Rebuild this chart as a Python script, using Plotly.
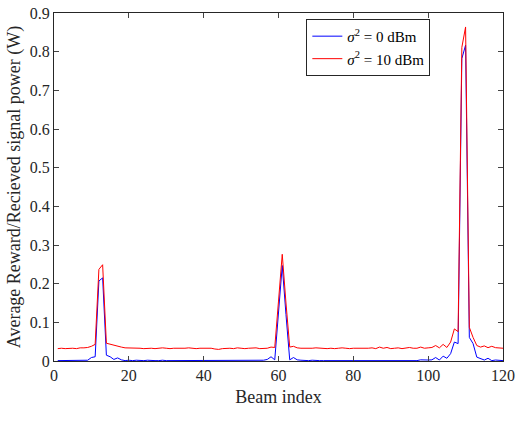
import plotly.graph_objects as go

# beam indices 1..120
beam_idx = list(range(1, 121))

# average reward / received power, sigma^2 = 0 dBm
power_0dbm = [
    0.001, 0.001, 0.001, 0.001, 0.001, 0.001, 0.001, 0.002, 0.002, 0.009,
    0.011, 0.207, 0.215, 0.015, 0.011, 0.004, 0.008, 0.003, 0.001, 0.002,
    0.001, 0.002, 0.001, 0.001, 0.002, 0.001, 0.001, 0.001, 0.002, 0.001,
    0.001, 0.001, 0.002, 0.001, 0.001, 0.001, 0.001, 0.002, 0.001, 0.001,
    0.001, 0.001, 0.001, 0.002, 0.001, 0.001, 0.001, 0.001, 0.001, 0.002,
    0.001, 0.001, 0.001, 0.002, 0.001, 0.002, 0.004, 0.011, 0.003, 0.125,
    0.247, 0.120, 0.003, 0.009, 0.003, 0.002, 0.001, 0.001, 0.002, 0.001,
    0.001, 0.001, 0.001, 0.002, 0.001, 0.001, 0.001, 0.001, 0.002, 0.001,
    0.001, 0.001, 0.001, 0.002, 0.001, 0.001, 0.002, 0.001, 0.001, 0.001,
    0.002, 0.001, 0.001, 0.002, 0.001, 0.002, 0.001, 0.003, 0.002, 0.0025,
    0.003, 0.009, 0.0025, 0.0126, 0.007, 0.019, 0.049, 0.045, 0.782, 0.817,
    0.061, 0.045, 0.010, 0.007, 0.0025, 0.007, 0.001, 0.0025, 0.001, 0.001,
]

# sigma^2 = 10 dBm
power_10dbm = [
    0.032, 0.033, 0.032, 0.033, 0.033, 0.032, 0.034, 0.034, 0.035, 0.038,
    0.043, 0.237, 0.249, 0.046, 0.043, 0.040, 0.038, 0.036, 0.034, 0.034,
    0.033, 0.034, 0.033, 0.032, 0.033, 0.033, 0.032, 0.033, 0.034, 0.033,
    0.032, 0.033, 0.033, 0.032, 0.033, 0.034, 0.033, 0.032, 0.033, 0.033,
    0.032, 0.033, 0.031, 0.030, 0.032, 0.033, 0.033, 0.032, 0.034, 0.033,
    0.032, 0.033, 0.033, 0.034, 0.032, 0.033, 0.033, 0.036, 0.035, 0.155,
    0.276, 0.150, 0.036, 0.038, 0.034, 0.033, 0.033, 0.032, 0.033, 0.034,
    0.033, 0.033, 0.032, 0.033, 0.032, 0.033, 0.034, 0.033, 0.032, 0.033,
    0.033, 0.032, 0.033, 0.033, 0.034, 0.032, 0.036, 0.033, 0.035, 0.032,
    0.033, 0.034, 0.032, 0.033, 0.035, 0.033, 0.033, 0.036, 0.033, 0.034,
    0.035, 0.040, 0.034, 0.043, 0.035, 0.049, 0.083, 0.076, 0.811, 0.864,
    0.087, 0.061, 0.040, 0.036, 0.039, 0.0345, 0.038, 0.0345, 0.033, 0.033,
]

x_ticks = [0, 20, 40, 60, 80, 100, 120]
y_ticks = [0, 0.1, 0.2, 0.3, 0.4, 0.5, 0.6, 0.7, 0.8, 0.9]
y_tick_text = ['0', '0.1', '0.2', '0.3', '0.4', '0.5', '0.6', '0.7', '0.8', '0.9']

serif = 'Liberation Serif'
axis_col = '#262626'

fig = go.Figure()
fig.add_trace(go.Scatter(
    x=beam_idx, y=power_0dbm, mode='lines',
    name='<i>σ</i><sup>2</sup> = 0 dBm',
    line=dict(color='#0000FF', width=1)))
fig.add_trace(go.Scatter(
    x=beam_idx, y=power_10dbm, mode='lines',
    name='<i>σ</i><sup>2</sup> = 10 dBm',
    line=dict(color='#FF0000', width=1)))

fig.update_layout(
    width=520, height=430,
    margin=dict(l=54, r=13, t=5, b=69),
    paper_bgcolor='white', plot_bgcolor='white',
    font=dict(family=serif, size=15, color='black'),
    showlegend=True,
    legend=dict(
        x=0.562, y=0.983, xanchor='left', yanchor='top',
        bgcolor='white', bordercolor=axis_col, borderwidth=1,
        font=dict(family=serif, size=15, color='black'),
        tracegroupgap=0),
    xaxis=dict(
        range=[0, 120], tickvals=x_ticks, ticks='inside', ticklen=5,
        showline=True, linecolor=axis_col, linewidth=1, mirror='ticks',
        showgrid=False, zeroline=False, ticklabeloverflow='allow',
        tickfont=dict(family=serif, size=16, color='#262626'),
        title=dict(text='Beam index', standoff=7,
                   font=dict(family=serif, size=18, color='#262626'))),
    yaxis=dict(
        range=[0, 0.9001], tickvals=y_ticks, ticktext=y_tick_text,
        ticks='inside', ticklen=5,
        showline=True, linecolor=axis_col, linewidth=1, mirror='ticks',
        showgrid=False, zeroline=False, ticklabeloverflow='allow',
        tickfont=dict(family=serif, size=16, color='#262626'),
        title=dict(text='Average Reward/Recieved signal power (W)', standoff=4,
                   font=dict(family=serif, size=18, color='#262626'))),
)

# page has a default 8px body margin; drop it so the figure sits at the corner
fig.write_html("out.html", config={'displayModeBar': False},
               post_script="document.body.style.margin='0px';")
